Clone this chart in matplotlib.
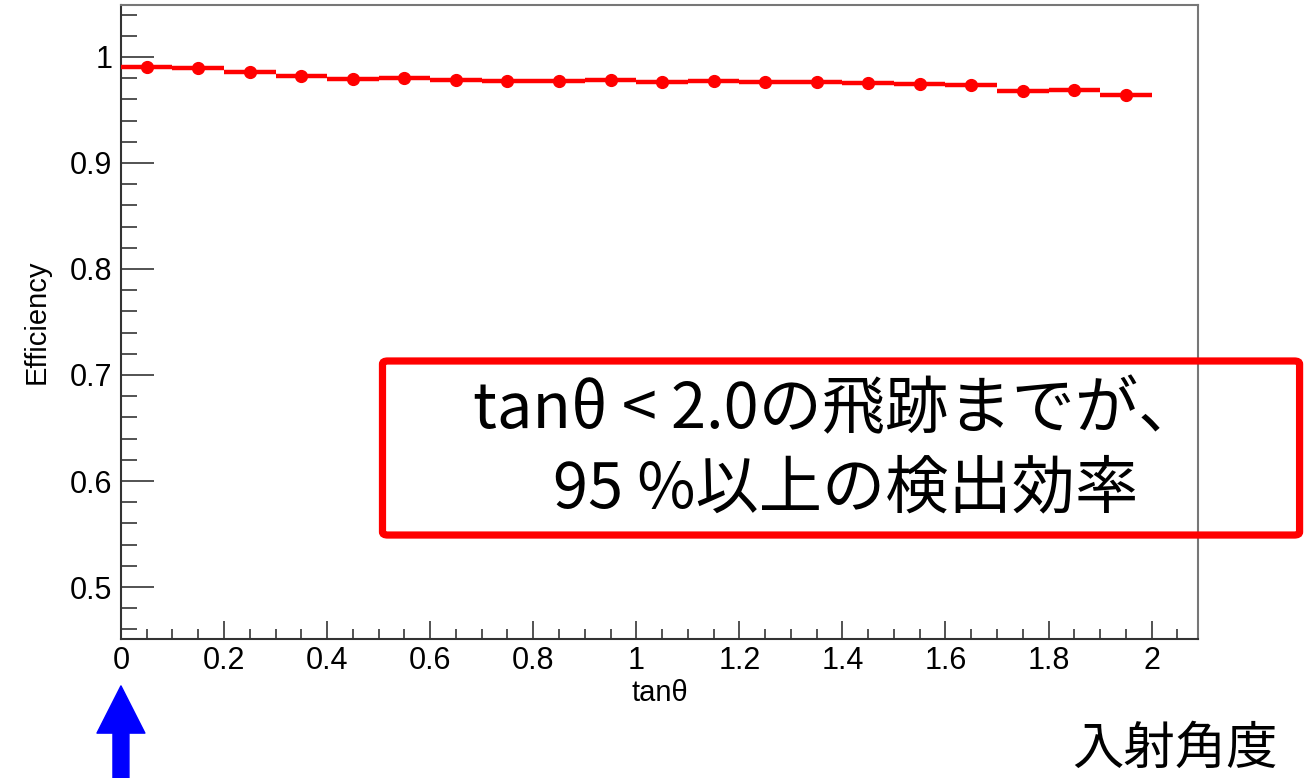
import numpy as np
import matplotlib
matplotlib.use("Agg")
import matplotlib.pyplot as plt
from matplotlib.patches import FancyBboxPatch
from matplotlib.ticker import MultipleLocator

# --- efficiency vs tan(theta), 20 bins of width 0.1 ---
tan_theta = np.arange(0.05, 2.0, 0.1)
bin_half_width = 0.05
efficiency = [0.9902, 0.9892, 0.9861, 0.9817, 0.9789, 0.9802, 0.9786, 0.9776,
              0.9776, 0.9783, 0.9767, 0.9776, 0.9764, 0.9767, 0.9751, 0.9748,
              0.9736, 0.9679, 0.9692, 0.9644]

x_label = "tanθ"
y_label = "Efficiency"
note_line1 = "tanθ < 2.0の飛跡までが、"
note_line2 = "95 %以上の検出効率"
corner_label = "入射角度"

plt.rcParams["font.family"] = ["Liberation Sans", "DejaVu Sans"]
JP = ["Noto Sans CJK JP", "DejaVu Sans"]

fig = plt.figure(figsize=(13.09, 7.78), dpi=100)
ax = fig.add_axes([0.0924, 0.1787, 0.8228, 0.8149])

ax.errorbar(tan_theta, efficiency, xerr=bin_half_width, fmt="o",
            color="#ff0000", ecolor="#ff0000", elinewidth=3.2,
            markersize=8.5, capsize=0, zorder=3)

ax.set_xlim(0, 2.09)
ax.set_ylim(0.451, 1.049)
ax.xaxis.set_major_locator(MultipleLocator(0.2))
ax.xaxis.set_minor_locator(MultipleLocator(0.05))
ax.yaxis.set_major_locator(MultipleLocator(0.1))
ax.yaxis.set_minor_locator(MultipleLocator(0.02))

def fmt(v, _):
    s = f"{v:.1f}"
    return s.rstrip("0").rstrip(".") if s.endswith(".0") else s

ax.xaxis.set_major_formatter(fmt)
ax.yaxis.set_major_formatter(fmt)

ax.tick_params(axis="both", which="both", direction="in", colors="#444444",
               labelcolor="black", labelsize=22, width=1.3)
ax.tick_params(axis="y", which="major", length=24, pad=6)
ax.tick_params(axis="y", which="minor", length=11.5)
ax.tick_params(axis="x", which="major", length=13, pad=5)
ax.tick_params(axis="x", which="minor", length=7)

for side in ["left", "bottom"]:
    ax.spines[side].set_color("#333333")
    ax.spines[side].set_linewidth(1.5)
for side in ["right", "top"]:
    ax.spines[side].set_color("#777777")
    ax.spines[side].set_linewidth(1.5)

ax.set_xlabel(x_label, fontsize=21, labelpad=2)
ax.set_ylabel(y_label, fontsize=21, labelpad=14)

# red annotation box with the two-line note
box = FancyBboxPatch((0.2922, 0.3123), 0.7006, 0.2237,
                     boxstyle="round,pad=0,rounding_size=0.004",
                     transform=fig.transFigure, fill=False,
                     edgecolor="#ff0000", linewidth=5.2, zorder=5)
fig.add_artist(box)
fig.text(0.3613, 0.4499, note_line1, family=JP, fontsize=45.5, va="baseline")
fig.text(0.4225, 0.3483, note_line2, family=JP, fontsize=45.5, va="baseline")

fig.text(0.819, 0.018, corner_label, family=JP, fontsize=37, va="baseline")

# blue arrow pointing at tanθ = 0
ax.annotate("", xy=(0, -0.074), xytext=(0, -0.222),
            xycoords=("data", "axes fraction"),
            textcoords=("data", "axes fraction"),
            arrowprops=dict(arrowstyle="simple,head_width=34.5,head_length=34,tail_width=11.5",
                            color="#0000ff", shrinkA=0, shrinkB=0, mutation_scale=1),
            annotation_clip=False)

fig.savefig("out.png", dpi=100)
